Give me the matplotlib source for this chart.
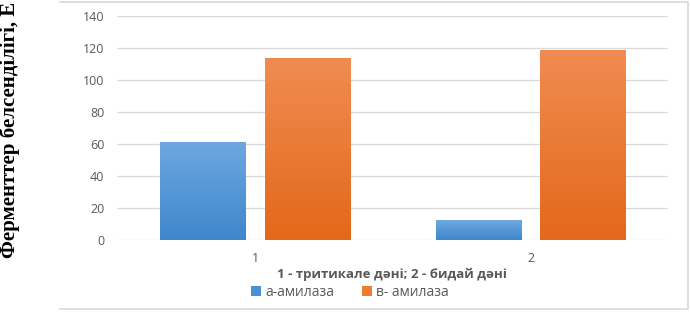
import matplotlib
matplotlib.use("Agg")
import matplotlib.pyplot as plt
import numpy as np
from matplotlib.colors import LinearSegmentedColormap
from matplotlib.lines import Line2D
from matplotlib.patches import Patch

categories = ["1", "2"]
series_names = ["а-амилаза", "в- амилаза"]
alpha_amylase = [61.5, 12.5]
beta_amylase = [114, 119]
y_ticks = [0, 20, 40, 60, 80, 100, 120, 140]
xlabel = "1 - тритикале дәні; 2 - бидай дәні"
ylabel = "Ферменттер белсенділігі, Е"

W, H = 690, 314
fig = plt.figure(figsize=(W / 100, H / 100), dpi=100)
fig.patch.set_facecolor("white")

# chart frame (top, right, bottom)
fx = [60 / W, 688 / W, 688 / W, 60 / W]
fy = [1 - 1.5 / H, 1 - 1.5 / H, 1 - 309 / H, 1 - 309 / H]
fig.add_artist(Line2D(fx, fy, transform=fig.transFigure, color="#d9d9d9", linewidth=1.2))

ax = fig.add_axes([117 / W, 1 - 240 / H, (668 - 117) / W, (240 - 16) / H])
ax.set_ylim(0, 140)
ax.set_yticks(y_ticks)
ax.set_yticklabels([str(v) for v in y_ticks])
ax.yaxis.grid(True, color="#d9d9d9", linewidth=0.9)
ax.set_axisbelow(True)
for s in ax.spines.values():
    s.set_visible(False)
ax.tick_params(axis="both", length=0, colors="#595959", labelsize=9)
ax.tick_params(axis="y", pad=9)
ax.tick_params(axis="x", pad=9)

x = np.arange(len(categories))
width = 0.309
off = 0.19

blue_cmap = LinearSegmentedColormap.from_list("b", ["#3f86cc", "#6ea8e0"])
orange_cmap = LinearSegmentedColormap.from_list("o", ["#e4681a", "#f08c52"])

b1 = ax.bar(x - off, alpha_amylase, width, color="none", edgecolor="none", label=series_names[0])
b2 = ax.bar(x + off, beta_amylase, width, color="none", edgecolor="none", label=series_names[1])

grad = np.linspace(0, 1, 256).reshape(-1, 1)
for bars, cmap in ((b1, blue_cmap), (b2, orange_cmap)):
    for p in bars:
        x0, y0 = p.get_x(), p.get_y()
        w, h = p.get_width(), p.get_height()
        im = ax.imshow(grad, cmap=cmap, origin="lower", aspect="auto",
                       extent=(x0, x0 + w, y0, y0 + h), zorder=2)
        im.set_clip_path(p)

ax.set_xticks(x)
ax.set_xticklabels(categories)
ax.set_xlim(-0.501, 1.499)
ax.set_ylim(0, 140)
for lbl in ax.get_yticklabels() + ax.get_xticklabels():
    lbl.set_fontfamily("Open Sans")

fig.text(392 / W, 1 - 274 / H, xlabel, ha="center", va="center",
         fontsize=9.5, fontweight="bold", color="#595959", family="Open Sans")

handles = [Patch(facecolor="#4a90d6", edgecolor="none"),
           Patch(facecolor="#ed7d31", edgecolor="none")]
leg = fig.legend(handles, series_names, loc="center", bbox_to_anchor=(350 / W, 1 - 292 / H),
                 ncol=2, frameon=False, handlelength=0.7, handleheight=0.7,
                 handletextpad=0.3, columnspacing=2.0, prop={"family": "Open Sans", "size": 10})
for t in leg.get_texts():
    t.set_color("#595959")

fig.text(10 / W, 1 - 258 / H, ylabel, rotation=90, ha="center", va="bottom",
         fontsize=15, fontweight="bold", family="Liberation Serif", color="black")

fig.savefig("out.png", dpi=100)
